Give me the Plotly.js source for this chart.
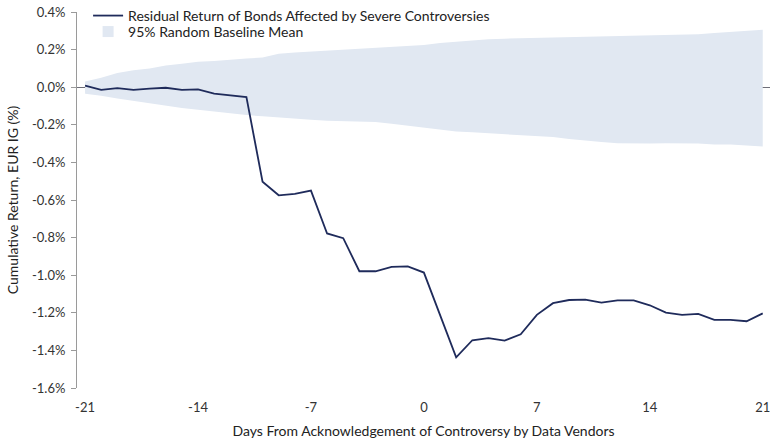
<!DOCTYPE html>
<html>
<head>
<meta charset="utf-8">
<script src="https://cdn.plot.ly/plotly-3.0.1.min.js"></script>
<style>
html, body { margin: 0; padding: 0; background: #fff; }
#chart { width: 780px; height: 440px; }
</style>
</head>
<body>
<div id="chart"></div>
<script>
// Days relative to acknowledgement, -21 .. 21
var days = [-21,-20,-19,-18,-17,-16,-15,-14,-13,-12,-11,-10,-9,-8,-7,-6,-5,-4,-3,-2,-1,
  0,1,2,3,4,5,6,7,8,9,10,11,12,13,14,15,16,17,18,19,20,21];

// Residual return of bonds affected by severe controversies (%)
var residual = [0.009,-0.014,-0.005,-0.014,-0.008,-0.003,-0.014,-0.012,-0.034,-0.042,-0.053,
  -0.503,-0.575,-0.567,-0.55,-0.778,-0.803,-0.979,-0.979,-0.956,-0.953,
  -0.986,-1.21,-1.437,-1.346,-1.335,-1.348,-1.314,-1.211,-1.149,-1.132,-1.13,
  -1.146,-1.134,-1.134,-1.16,-1.199,-1.211,-1.206,-1.238,-1.238,-1.245,-1.203];

// 95% random baseline band (%)
var bandUpper = [0.03,0.05,0.075,0.09,0.10,0.115,0.125,0.135,0.14,0.148,0.152,
  0.158,0.178,0.185,0.19,0.195,0.20,0.205,0.21,0.215,0.22,
  0.225,0.235,0.243,0.25,0.255,0.258,0.26,0.262,0.263,0.265,0.266,
  0.268,0.27,0.272,0.274,0.276,0.278,0.282,0.288,0.293,0.298,0.305];
var bandLower = [-0.035,-0.045,-0.06,-0.072,-0.085,-0.10,-0.11,-0.12,-0.13,-0.138,-0.148,
  -0.155,-0.162,-0.168,-0.173,-0.178,-0.18,-0.182,-0.185,-0.195,-0.205,
  -0.213,-0.225,-0.235,-0.24,-0.245,-0.25,-0.255,-0.26,-0.265,-0.275,-0.285,
  -0.292,-0.298,-0.30,-0.30,-0.298,-0.297,-0.30,-0.305,-0.305,-0.31,-0.315];

var xTicks = [-21,-14,-7,0,7,14,21];
var yTicks = [0.4,0.2,0,-0.2,-0.4,-0.6,-0.8,-1.0,-1.2,-1.4,-1.6];
var yTickText = yTicks.map(function(v){ return v.toFixed(1) + '%'; });

var navy = '#1f2b5b';
var bandColor = '#e1e8f2';

// Band: lower edge first, upper fills down to it
var band_lower = {
  x: days, y: bandLower,
  mode: 'lines', line: {width: 0, color: bandColor},
  showlegend: false, hoverinfo: 'skip'
};
var band_upper = {
  x: days, y: bandUpper,
  mode: 'lines', line: {width: 0, color: bandColor},
  fill: 'tonexty', fillcolor: bandColor,
  showlegend: false, hoverinfo: 'skip'
};
// legend entry only: small square swatch like the original
var band_key = {
  x: [null], y: [null],
  mode: 'markers', marker: {symbol: 'square', size: 11, color: bandColor},
  name: '95% Random Baseline Mean', legend: 'legend2'
};
var resid_line = {
  x: days, y: residual,
  mode: 'lines', line: {color: navy, width: 1.8},
  name: 'Residual Return of Bonds Affected by Severe Controversies', legend: 'legend'
};

// two legends so the rows can sit closer than plotly's item spacing
var legendBase = {
  xanchor: 'left', yanchor: 'top',
  bgcolor: 'rgba(0,0,0,0)', font: {size: 14, color: '#222'}
};

var layout = {
  width: 780, height: 440,
  margin: {l: 77, r: 10, t: 12, b: 52, autoexpand: false},
  paper_bgcolor: '#fff', plot_bgcolor: '#fff',
  font: {family: 'Lato, "Open Sans", sans-serif', size: 13, color: '#222'},
  showlegend: true,
  legend: Object.assign({x: 0.016, y: 1.032}, legendBase),
  legend2: Object.assign({x: 0.016, y: 0.9895}, legendBase),
  xaxis: {
    range: [-21.5, 21.45],
    tickvals: xTicks,
    ticktext: xTicks.map(String),
    showgrid: false, zeroline: false, showline: false, ticks: '',
    ticklabelstandoff: 10,
    tickfont: {size: 13, color: '#333'},
    title: {text: 'Days From Acknowledgement of Controversy by Data Vendors', font: {size: 14, color: '#222'}, standoff: 12}
  },
  yaxis: {
    range: [-1.6, 0.4],
    tickvals: yTicks, ticktext: yTickText,
    showgrid: false,
    zeroline: true, zerolinecolor: '#6e6e78', zerolinewidth: 1,
    showline: true, linecolor: '#9a9a9a', linewidth: 1,
    ticks: 'outside', ticklen: 5, tickcolor: '#9a9a9a',
    ticklabelstandoff: 3,
    tickfont: {size: 13, color: '#333'},
    title: {text: 'Cumulative Return, EUR IG (%)', font: {size: 14, color: '#222'}, standoff: 10}
  }
};

Plotly.newPlot('chart', [band_lower, band_upper, band_key, resid_line], layout, {displayModeBar: false, staticPlot: true});
</script>
</body>
</html>
